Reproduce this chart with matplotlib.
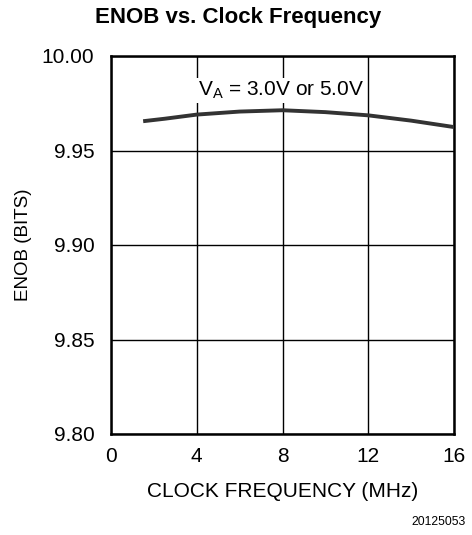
import matplotlib
matplotlib.use("Agg")
import matplotlib.pyplot as plt

plt.rcParams['font.family'] = ['Liberation Sans', 'DejaVu Sans']

# ENOB vs clock frequency
freq_mhz = [1.5, 2.5, 4.0, 6.0, 8.0, 10.0, 12.0, 14.0, 16.0]
enob_bits = [9.9655, 9.9668, 9.9690, 9.9706, 9.9713, 9.9703, 9.9686, 9.9658, 9.9624]

x_ticks = [0, 4, 8, 12, 16]
y_ticks = [9.80, 9.85, 9.90, 9.95, 10.00]

fig = plt.figure(figsize=(4.72, 5.35), dpi=100)
ax = fig.add_axes([111/472, 1 - 434/535, 343/472, 378/535])

ax.plot(freq_mhz, enob_bits, color='#333333', lw=2.8, solid_capstyle='butt', zorder=3)

ax.set_xlim(0, 16)
ax.set_ylim(9.80, 10.00)
ax.set_xticks(x_ticks)
ax.set_yticks(y_ticks)
ax.set_yticklabels([f"{v:.2f}" for v in y_ticks])
ax.grid(True, color='black', lw=1.0)
ax.tick_params(length=0, labelsize=15)
ax.tick_params(axis='x', pad=9)
ax.tick_params(axis='y', pad=12)
for s in ax.spines.values():
    s.set_linewidth(1.8)

ax.text(4.05, 9.9818, r'V$_\mathregular{A}$ = 3.0V or 5.0V', fontsize=15,
        va='center', ha='left', zorder=4,
        bbox=dict(facecolor='white', edgecolor='none', pad=1))

ax.set_xlabel('CLOCK FREQUENCY (MHz)', fontsize=15, labelpad=12)
ax.set_ylabel('ENOB (BITS)', fontsize=13.5, labelpad=7)
fig.text(238/472, 1 - 18/535, 'ENOB vs. Clock Frequency',
         ha='center', va='center', fontsize=16, fontweight='bold')
fig.text(466/472, 1 - 522/535, '20125053', ha='right', va='center', fontsize=8.8)

fig.savefig('out.png', dpi=100)
